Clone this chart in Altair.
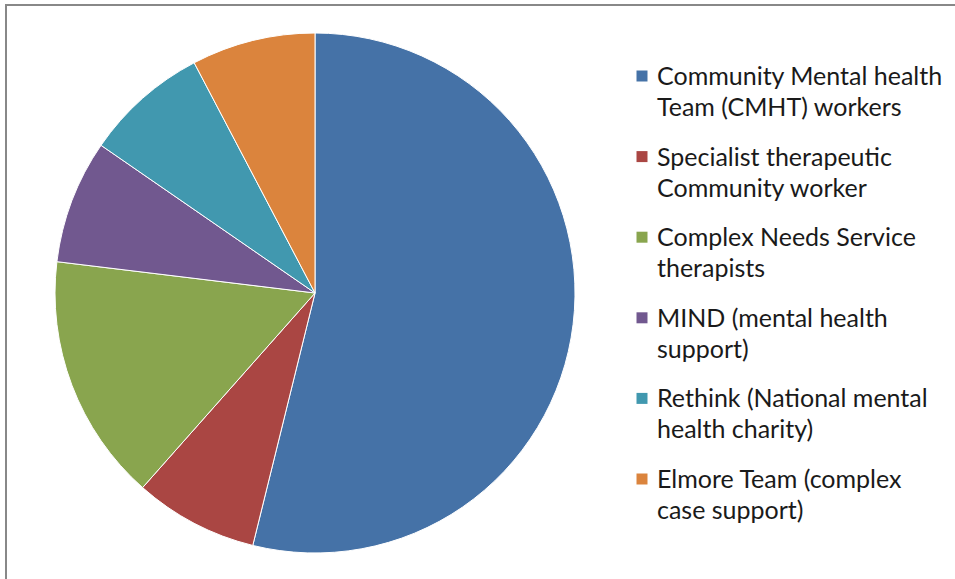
import altair as alt
import pandas as pd

categories = [
    "Community Mental health\nTeam (CMHT) workers",
    "Specialist therapeutic\nCommunity worker",
    "Complex Needs Service\ntherapists",
    "MIND (mental health\nsupport)",
    "Rethink (National mental\nhealth charity)",
    "Elmore Team (complex\ncase support)",
]
counts = [7, 1, 2, 1, 1, 1]
colors = ["#4572A7", "#AA4643", "#89A54E", "#71588F", "#4198AF", "#DB843D"]

df = pd.DataFrame({"cat": categories, "count": counts, "idx": list(range(len(counts)))})

color = alt.Color("cat:N", scale=alt.Scale(domain=categories, range=colors), legend=None)

pie = alt.Chart(df).mark_arc(outerRadius=260, stroke="white", strokeWidth=1).encode(
    theta=alt.Theta("count:Q", stack=True),
    color=color,
    order=alt.Order("idx:Q"),
    x=alt.value(315),
    y=alt.value(293),
)

ypos = alt.Y("cat:N", scale=alt.Scale(type="point", domain=categories, range=[76, 479], padding=0), axis=None)

squares = alt.Chart(df).mark_square(size=121, opacity=1).encode(
    x=alt.value(642),
    y=ypos,
    color=color,
)

labels = alt.Chart(df).mark_text(
    align="left", baseline="middle", lineBreak="\n", lineHeight=31,
    dy=1, font="Lato", fontSize=25, color="#1a1a1a",
).encode(
    x=alt.value(657),
    y=ypos,
    text="cat:N",
)

border_top = alt.Chart(df).mark_rule(color="#888888", strokeWidth=2).encode(
    x=alt.value(5), x2=alt.value(955), y=alt.value(5)
)
border_left = alt.Chart(df).mark_rule(color="#888888", strokeWidth=2).encode(
    x=alt.value(6), y=alt.value(5), y2=alt.value(579)
)

chart = alt.layer(pie, squares, labels, border_top, border_left).properties(
    width=955, height=579, padding=0, autosize=alt.AutoSizeParams(type="none"),
    background="white",
).configure_view(stroke=None)

chart.save("out.html", embed_options={"renderer": "svg", "actions": False})
